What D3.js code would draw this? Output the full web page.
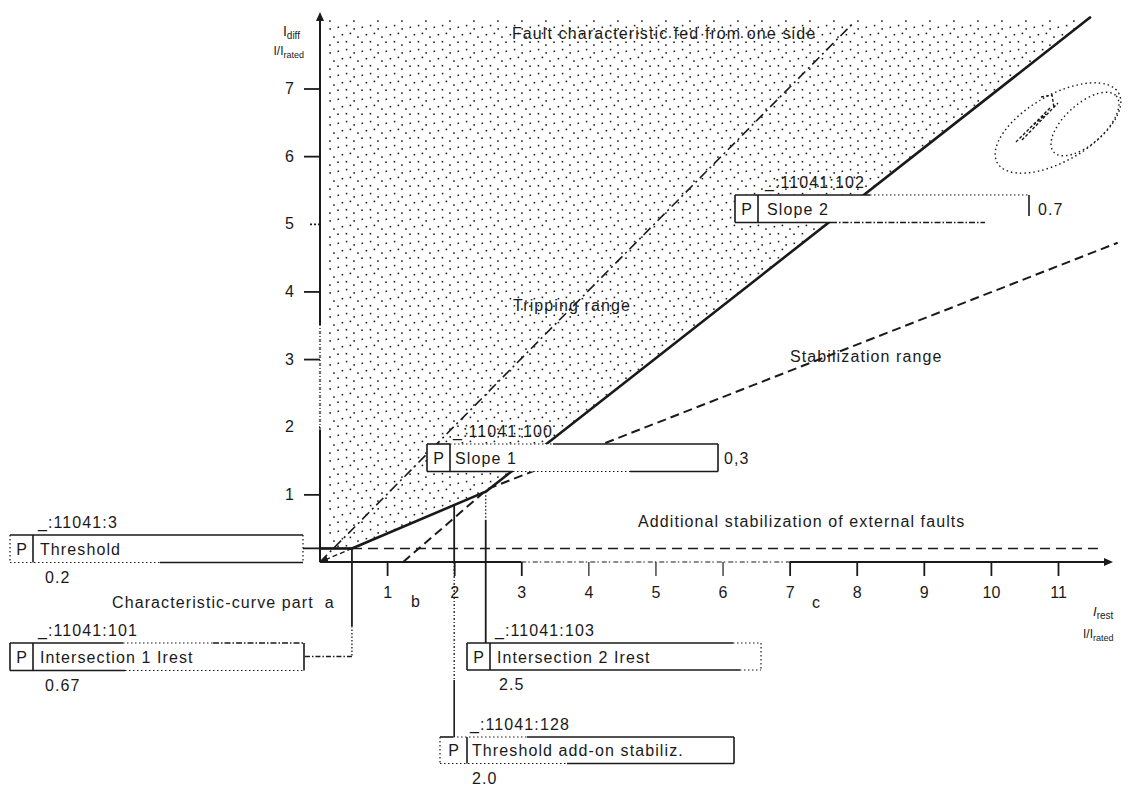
<!DOCTYPE html>
<html><head><meta charset="utf-8">
<script src="https://cdn.jsdelivr.net/npm/d3@7"></script>
<style>
body{margin:0;background:#fff;}
text{font-family:"Liberation Sans",Arial,sans-serif;fill:#1a1a1a;}
</style></head><body>
<svg id="c" width="1131" height="789" xmlns="http://www.w3.org/2000/svg"></svg>
<script>
// ---------- data ----------
const xTicks = [1,2,3,4,5,6,7,8,9,10,11];
const yTicks = [1,2,3,4,5,6,7];
const threshold = 0.2;
const intersection1 = 0.476;
const intersection2 = 2.47;
const addOnThreshold = 2.0;
const characteristic = [[0,0.2],[0.476,0.2],[2.47,1.04],[11.49,8.06]];
const slope1Extension = [[0.476,0.2],[0,0]];
const faultLine = [[0,0],[7.94,7.96]];
const stabLine = [[1.24,0],[2.5,1.08],[11.89,4.72]];
const addStabLine = [[0.476,0.2],[11.66,0.2]];
const trippingTop = 8.02;
const params = [
  {id:"_:11041:3",   name:"Threshold",                 value:"0.2"},
  {id:"_:11041:101", name:"Intersection 1 Irest",      value:"0.67"},
  {id:"_:11041:100", name:"Slope 1",                   value:"0,3"},
  {id:"_:11041:102", name:"Slope 2",                   value:"0.7"},
  {id:"_:11041:103", name:"Intersection 2 Irest",      value:"2.5"},
  {id:"_:11041:128", name:"Threshold add-on stabiliz.",value:"2.0"}
];

// ---------- setup ----------
const svg = d3.select("#c");
const x = d3.scaleLinear().domain([0,11]).range([320,1058]);
const y = d3.scaleLinear().domain([0,7]).range([562,88.5]);
const line = d3.line().x(d=>x(d[0])).y(d=>y(d[1]));
const ink = "#1a1a1a";
const FS = 16, LS = "1.1px";

const defs = svg.append("defs");
const pat = defs.append("pattern").attr("id","stip").attr("patternUnits","userSpaceOnUse")
  .attr("width",24).attr("height",24);
[[1.5,2.5],[9.8,0.8],[17.4,4.1],[5.6,9.9],[13.6,8.6],[21.2,12.3],[1.2,17.4],[9.6,16.9],[17.1,20.3]]
  .forEach(p=>pat.append("rect").attr("x",p[0]).attr("y",p[1]).attr("width",1.6).attr("height",1.6).attr("fill","#222"));
defs.append("marker").attr("id","arr").attr("viewBox","0 0 10 10").attr("refX",9).attr("refY",5)
  .attr("markerWidth",7).attr("markerHeight",7).attr("orient","auto")
  .append("path").attr("d","M0,1 L10,5 L0,9 z").attr("fill",ink);

// ---------- stippled tripping area ----------
const area = [[0.12,trippingTop],[characteristic[3][0],trippingTop]].concat(characteristic.slice().reverse());
area[area.length-1] = [0.12,0.2];
svg.append("path").attr("d",line(area)+"Z").attr("fill","url(#stip)");

// ---------- scribble ----------
const sc = svg.append("g").attr("fill","none").attr("stroke",ink).attr("stroke-width",1.4).attr("stroke-dasharray","1.5,3");
sc.append("ellipse").attr("cx",1058).attr("cy",128).attr("rx",70).attr("ry",33).attr("transform","rotate(-30 1058 128)");
sc.append("ellipse").attr("cx",1085).attr("cy",124).attr("rx",42).attr("ry",20).attr("transform","rotate(-42 1085 124)");
sc.append("path").attr("d","M1016,142 L1050,108 M1022,140 L1058,103 M1041,97 L1052,95 L1054,108 M1030,128 L1046,114").attr("stroke-dasharray","3,2");

// ---------- axes ----------
const ax = svg.append("g").attr("stroke",ink).attr("stroke-width",2).attr("fill","none");
ax.append("line").attr("x1",x(0)).attr("x2",x(3)).attr("y1",y(0)).attr("y2",y(0));
ax.append("line").attr("x1",x(3)).attr("x2",x(7)).attr("y1",y(0)).attr("y2",y(0)).attr("stroke-width",1.2).attr("stroke-dasharray","5,2,1.5,3");
ax.append("line").attr("x1",x(7)).attr("x2",1108).attr("y1",y(0)).attr("y2",y(0));
svg.append("path").attr("d",`M1104,${y(0)-4} L1113,${y(0)} L1104,${y(0)+4}Z`).attr("fill",ink);
ax.append("line").attr("x1",x(0)).attr("x2",x(0)).attr("y1",y(0)).attr("y2",y(1.95));
ax.append("line").attr("x1",x(0)).attr("x2",x(0)).attr("y1",y(1.95)).attr("y2",y(3.5)).attr("stroke-width",1.2).attr("stroke-dasharray","3,2,1,2");
ax.append("line").attr("x1",x(0)).attr("x2",x(0)).attr("y1",y(3.5)).attr("y2",20);
svg.append("path").attr("d",`M${x(0)-4},21 L${x(0)},12 L${x(0)+4},21Z`).attr("fill",ink);

const xa = svg.append("g").attr("transform",`translate(0,${y(0)})`)
  .call(d3.axisBottom(x).tickValues(xTicks).tickSize(14).tickPadding(10.5).tickFormat(d3.format("d")));
xa.select(".domain").remove();
xa.selectAll(".tick line").attr("stroke",ink).attr("stroke-width",d=>(d>=4&&d<=6)?1.2:1.8);
xa.selectAll(".tick text").attr("font-size",FS).attr("fill",ink).attr("font-family","Liberation Sans, Arial, sans-serif");

const ya = svg.append("g").attr("transform",`translate(${x(0)},0)`)
  .call(d3.axisLeft(y).tickValues(yTicks).tickSize(16).tickPadding(10).tickFormat(d3.format("d")));
ya.select(".domain").remove();
ya.selectAll(".tick line").attr("stroke",ink).attr("stroke-width",1.8)
  .attr("stroke-dasharray",d=>d===5?"2,2":(d===2?"1,3":null))
  .attr("x2",d=>d===5?-10:(d===2?-4:-16));
ya.selectAll(".tick text").attr("font-size",FS).attr("fill",ink).attr("font-family","Liberation Sans, Arial, sans-serif");

// axis labels
const yl = svg.append("text").attr("x",300).attr("y",36).attr("text-anchor","end").attr("font-size",14);
yl.append("tspan").text("I");
yl.append("tspan").attr("font-size",10).attr("dy",3).text("diff");
const yl2 = svg.append("text").attr("x",304).attr("y",55).attr("text-anchor","end").attr("font-size",12);
yl2.append("tspan").text("I/I");
yl2.append("tspan").attr("font-size",9).attr("dy",3).text("rated");
const xl = svg.append("text").attr("x",1093).attr("y",616).attr("font-size",13);
xl.append("tspan").attr("font-style","italic").text("I");
xl.append("tspan").attr("font-size",10).attr("dy",3).text("rest");
const xl2 = svg.append("text").attr("x",1083).attr("y",638).attr("font-size",12);
xl2.append("tspan").text("I/I");
xl2.append("tspan").attr("font-size",9).attr("dy",3).text("rated");

// ---------- characteristic lines ----------
svg.append("path").attr("d",line(faultLine)).attr("fill","none").attr("stroke",ink).attr("stroke-width",1.6).attr("stroke-dasharray","10,4,2,4");
svg.append("path").attr("d",line(slope1Extension)).attr("fill","none").attr("stroke",ink).attr("stroke-width",1.3).attr("stroke-dasharray","5,3").attr("marker-end","url(#arr)");
svg.append("path").attr("d",line(stabLine)).attr("fill","none").attr("stroke",ink).attr("stroke-width",2).attr("stroke-dasharray","9,5");
svg.append("path").attr("d",line(addStabLine)).attr("fill","none").attr("stroke",ink).attr("stroke-width",1.6).attr("stroke-dasharray","10,6");
svg.append("path").attr("d",line(characteristic)).attr("fill","none").attr("stroke",ink).attr("stroke-width",2.6).attr("stroke-linejoin","round");

// vertical marker lines
const vl = svg.append("g").attr("stroke",ink).attr("fill","none");
vl.append("line").attr("x1",x(intersection1)).attr("x2",x(intersection1)).attr("y1",y(threshold)).attr("y2",626).attr("stroke-width",1.8);
vl.append("line").attr("x1",x(intersection1)).attr("x2",x(intersection1)).attr("y1",626).attr("y2",656).attr("stroke-width",1.3).attr("stroke-dasharray","1.5,2");
vl.append("line").attr("x1",x(intersection1)).attr("x2",304).attr("y1",656.5).attr("y2",656.5).attr("stroke-width",1.5).attr("stroke-dasharray","5,2,1.5,2");
vl.append("line").attr("x1",x(addOnThreshold)).attr("x2",x(addOnThreshold)).attr("y1",y(0.84)).attr("y2",y(0)).attr("stroke-width",1.8);
vl.append("line").attr("x1",x(addOnThreshold)).attr("x2",x(addOnThreshold)).attr("y1",y(0)).attr("y2",680).attr("stroke-width",1.3).attr("stroke-dasharray","2,2,1,2");
vl.append("line").attr("x1",x(addOnThreshold)).attr("x2",x(addOnThreshold)).attr("y1",680).attr("y2",737).attr("stroke-width",1.6);
vl.append("line").attr("x1",x(intersection2)).attr("x2",x(intersection2)).attr("y1",y(1.04)).attr("y2",520).attr("stroke-width",1.3).attr("stroke-dasharray","1.5,2");
vl.append("line").attr("x1",x(intersection2)).attr("x2",x(intersection2)).attr("y1",520).attr("y2",643).attr("stroke-width",1.8);
vl.append("line").attr("x1",303).attr("x2",x(intersection1)).attr("y1",y(threshold)).attr("y2",y(threshold)).attr("stroke-width",1.8);

// ---------- parameter boxes ----------
function seg(g,x1,y1,x2,y2,st){
  const l = g.append("line").attr("x1",x1).attr("y1",y1).attr("x2",x2).attr("y2",y2).attr("stroke",ink);
  if(st==="dot") l.attr("stroke-width",1.2).attr("stroke-dasharray","1.5,2.5");
  else if(st==="dash") l.attr("stroke-width",1.3).attr("stroke-dasharray","6,2,1.5,2");
  else l.attr("stroke-width",1.6);
}
const boxes = [
  {p:params[0], x0:10,  x1:303,  y0:535,   y1:562.5, pw:23, lx:40,  vx:45,  vAfter:false,
    edges:[[10,535,303,535,"s"],[10,535,10,562.5,"dot"],[10,562.5,160,562.5,"dot"],[160,562.5,303,562.5,"s"],[303,535,303,562.5,"dot"]]},
  {p:params[1], x0:10,  x1:304,  y0:643,   y1:670.5, pw:23, lx:40,  vx:45,  vAfter:false,
    edges:[[10,643,123,643,"s"],[123,643,213,643,"dot"],[213,643,304,643,"dash"],[10,643,10,670.5,"s"],[10,670.5,125,670.5,"s"],[125,670.5,304,670.5,"dot"],[304,643,304,670.5,"s"]]},
  {p:params[2], x0:427, x1:718,  y0:444,   y1:471.5, pw:23, lx:455, vx:724, vAfter:true,
    edges:[[427,444,450,444,"s"],[450,444,553,444,"dot"],[553,444,718,444,"s"],[427,444,427,471.5,"s"],[427,471.5,513,471.5,"s"],[513,471.5,630,471.5,"dot"],[630,471.5,718,471.5,"s"],[718,444,718,471.5,"s"]]},
  {p:params[3], x0:735, x1:1029, y0:195,   y1:222.5, pw:23, lx:767, vx:1038, vAfter:true,
    edges:[[735,195,870,195,"s"],[870,195,1029,195,"dot"],[735,195,735,222.5,"s"],[735,222.5,831,222.5,"s"],[831,222.5,985,222.5,"dash"],[1029,195,1029,216,"s"]]},
  {p:params[4], x0:467, x1:761,  y0:643,   y1:670,   pw:23, lx:497, vx:499, vAfter:false,
    edges:[[467,643,733,643,"s"],[733,643,761,643,"dot"],[467,643,467,670,"s"],[467,670,740,670,"s"],[740,670,761,670,"dot"],[761,643,761,670,"dot"]]},
  {p:params[5], x0:440, x1:734,  y0:737,   y1:763.5, pw:27, lx:472, vx:472, vAfter:false,
    edges:[[440,737,453,737,"s"],[453,737,527,737,"dot"],[527,737,734,737,"s"],[440,737,440,763.5,"dot"],[440,763.5,567,763.5,"dot"],[567,763.5,734,763.5,"s"],[734,737,734,763.5,"s"]]}
];
boxes.forEach(b=>{
  const g = svg.append("g");
  g.append("rect").attr("x",b.x0).attr("y",b.y0).attr("width",b.x1-b.x0).attr("height",b.y1-b.y0).attr("fill","#fff");
  b.edges.forEach(e=>seg(g,e[0],e[1],e[2],e[3],e[4]));
  seg(g,b.x0+b.pw,b.y0,b.x0+b.pw,b.y1,"s");
  const cy = (b.y0+b.y1)/2;
  g.append("text").attr("x",b.x0+b.pw/2).attr("y",cy+6).attr("text-anchor","middle").attr("font-size",FS).text("P");
  g.append("text").attr("x",b.lx).attr("y",cy+6).attr("font-size",FS).attr("letter-spacing",LS).text(b.p.name);
  g.append("text").attr("x",b.lx-2).attr("y",b.y0-7).attr("font-size",FS).attr("letter-spacing",LS).text(b.p.id);
  if(b.vAfter) g.append("text").attr("x",b.vx).attr("y",cy+6).attr("font-size",FS).attr("letter-spacing",LS).text(b.p.value);
  else g.append("text").attr("x",b.vx).attr("y",b.y1+20).attr("font-size",FS).attr("letter-spacing",LS).text(b.p.value);
});

// ---------- region labels ----------
const labels = [
  ["Fault characteristic fed from one side",512,39],
  ["Tripping range",513,311],
  ["Stabilization range",790,362],
  ["Additional stabilization of external faults",638,527],
  ["Characteristic-curve part\u00A0\u00A0a",112,608],
  ["b",411,607],
  ["c",812,608]
];
labels.forEach(l=>svg.append("text").attr("x",l[1]).attr("y",l[2]).attr("font-size",FS).attr("letter-spacing",LS).text(l[0]));
</script>
</body></html>
